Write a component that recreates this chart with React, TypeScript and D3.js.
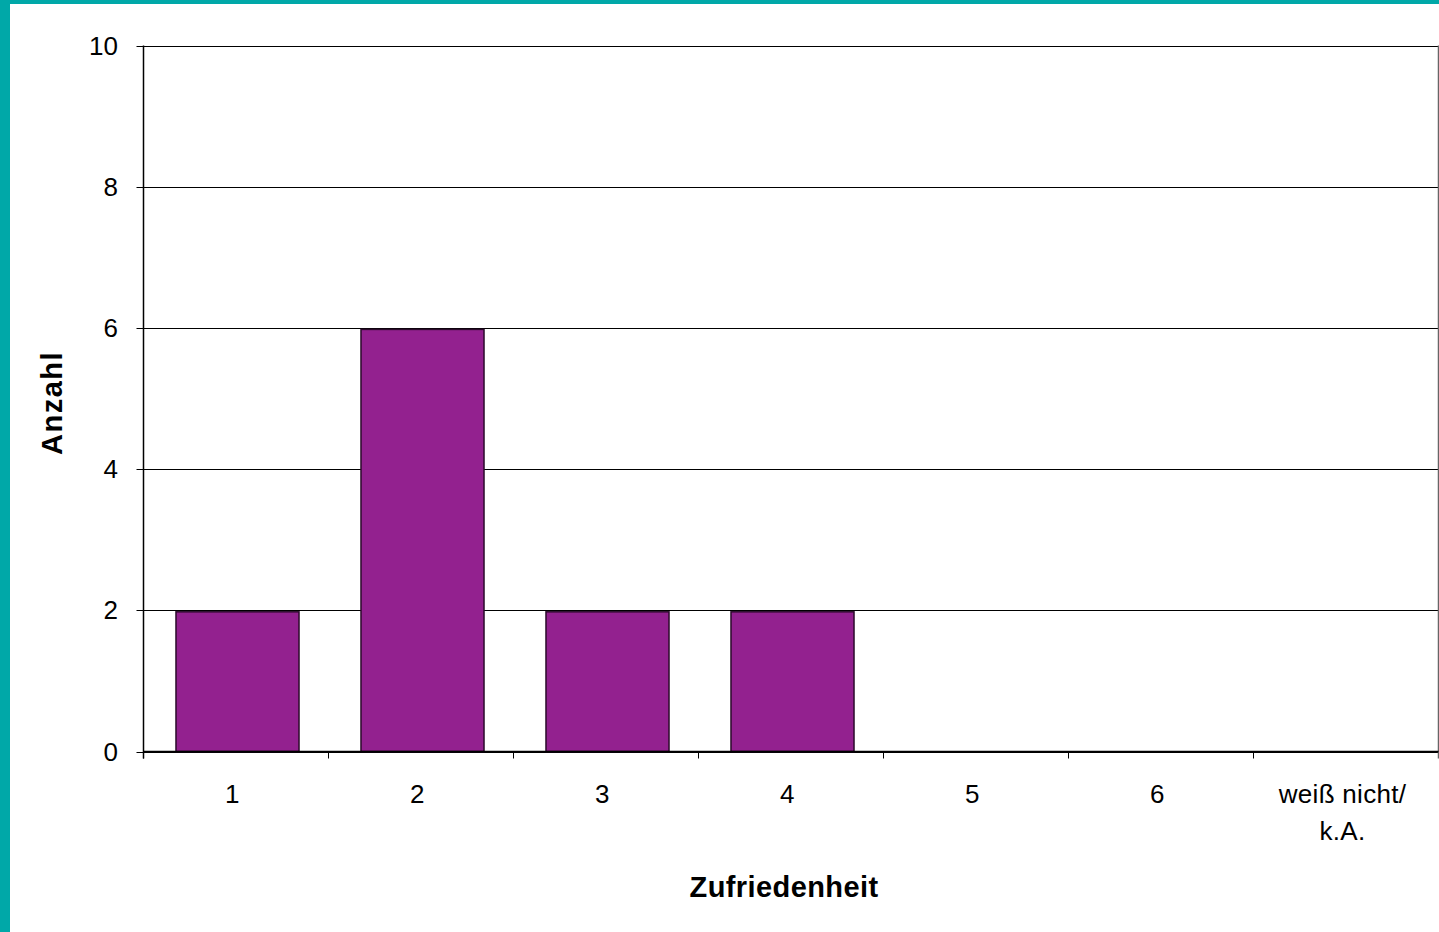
import React from "react";
import * as d3 from "d3";

const categories = ["1", "2", "3", "4", "5", "6", "weiß nicht/\nk.A."];
const counts = [2, 6, 2, 2, 0, 0, 0];
const yTicks = [0, 2, 4, 6, 8, 10];
const yTitle = "Anzahl";
const xTitle = "Zufriedenheit";

const W = 1439;
const H = 932;
const left = 143.5;
const right = 1438.5;
const top = 45.5;
const bottom = 751.5;
const pad = 0.335;

export default function App() {
  const x = d3
    .scaleBand<string>()
    .domain(categories)
    .range([left + 1.5, right + 1.5])
    .paddingInner(pad)
    .paddingOuter(pad / 2);
  const y = d3.scaleLinear().domain([0, 10]).range([bottom, top]);
  const step = x.step();
  const font = "'Liberation Sans', Arial, sans-serif";

  return (
    <svg
      width={W}
      height={H}
      style={{ position: "absolute", left: 0, top: 0, background: "#fff" }}
      fontFamily={font}
    >
      <rect x={0} y={0} width={W} height={4} fill="#00A8A8" />
      <rect x={0} y={0} width={10} height={H} fill="#00A8A8" />

      {yTicks.map((t) => (
        <g key={t}>
          <line x1={left - 7} x2={right} y1={Math.round(y(t)) + 0.5} y2={Math.round(y(t)) + 0.5} stroke="#000" strokeWidth={1} />
          <text x={118} y={y(t) + 9} textAnchor="end" fontSize={26} fill="#000">
            {t}
          </text>
        </g>
      ))}

      {categories.map((c, i) => {
        const v = counts[i];
        const x0 = x(c)!;
        return v > 0 ? (
          <rect
            key={c}
            x={x0}
            y={y(v) + 1.5}
            width={x.bandwidth()}
            height={y(0) - y(v) - 1.5}
            fill="#93218F"
            stroke="#2a0a2a"
            strokeWidth={1.5}
          />
        ) : null;
      })}

      <line x1={left} x2={left} y1={top} y2={bottom + 7} stroke="#000" strokeWidth={1.5} />
      <line x1={right} x2={right} y1={top} y2={bottom + 7} stroke="#666" strokeWidth={1.5} />
      <line x1={left} x2={right} y1={bottom} y2={bottom} stroke="#000" strokeWidth={1.5} />

      {categories.map((c, i) => {
        const bx = left + i * step;
        return (
          <line key={"t" + c} x1={bx} x2={bx} y1={bottom} y2={bottom + 7} stroke="#000" strokeWidth={1} />
        );
      })}

      {categories.map((c) => {
        const cx = x(c)! + x.bandwidth() / 2 - 5;
        const lines = c.split("\n");
        return (
          <text key={"l" + c} x={cx} y={803} textAnchor="middle" fontSize={26} letterSpacing={0.3} fill="#000">
            {lines.map((ln, j) => (
              <tspan key={j} x={cx} dy={j === 0 ? 0 : 37}>
                {ln}
              </tspan>
            ))}
          </text>
        );
      })}

      <text x={784} y={897} textAnchor="middle" fontSize={29} letterSpacing={0.4} fontWeight="bold" fill="#000">
        {xTitle}
      </text>
      <text
        transform={`translate(62,${403}) rotate(-90)`}
        textAnchor="middle"
        fontSize={29}
        letterSpacing={1.5}
        fontWeight="bold"
        fill="#000"
      >
        {yTitle}
      </text>
    </svg>
  );
}
